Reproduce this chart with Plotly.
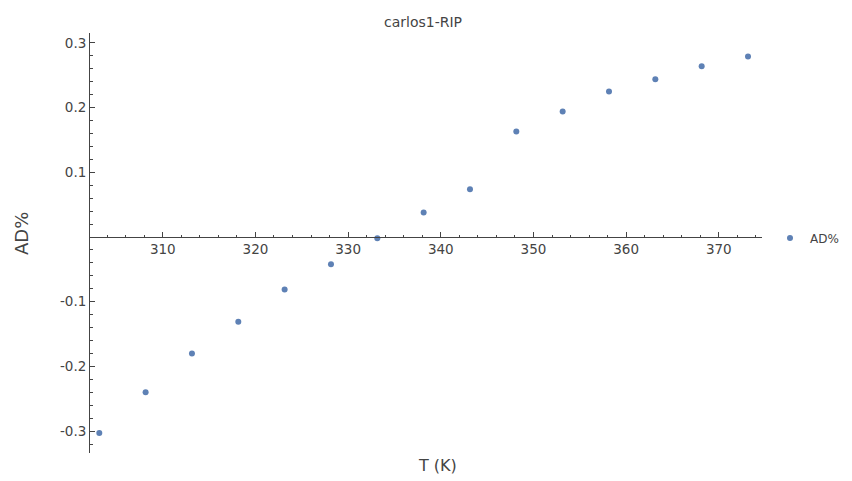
import plotly.graph_objects as go

# Data
T_K = [303.15, 308.15, 313.15, 318.15, 323.15, 328.15, 333.15, 338.15,
       343.15, 348.15, 353.15, 358.15, 363.15, 368.15, 373.15]
AD_pct = [-0.303, -0.240, -0.180, -0.131, -0.081, -0.042, -0.002, 0.038,
          0.074, 0.163, 0.194, 0.225, 0.244, 0.264, 0.279]

x_ticks = [310, 320, 330, 340, 350, 360, 370]
y_ticks = [-0.3, -0.2, -0.1, 0.1, 0.2, 0.3]
y_ticktext = ["-0.3", "-0.2", "-0.1", "0.1", "0.2", "0.3"]

W, H = 852, 481
ML, MR, MT, MB = 89, 90, 33, 28
x_range = [302.04, 374.66]
y_range = [-0.3338, 0.3153]
x_axis_pos = (0 - y_range[0]) / (y_range[1] - y_range[0])
PW = W - ML - MR
PH = H - MT - MB

blue = "#5E81B5"
axis_col = "#444444"
text_col = "#444444"
font_fam = "DejaVu Sans, Liberation Sans, Arial, sans-serif"

fig = go.Figure()
fig.add_trace(go.Scatter(
    x=T_K, y=AD_pct, mode="markers", name="AD%",
    marker=dict(color=blue, size=6),
))

fig.update_layout(
    width=W, height=H,
    margin=dict(l=ML, r=MR, t=MT, b=MB, autoexpand=False),
    plot_bgcolor="white", paper_bgcolor="white",
    font=dict(family=font_fam, color=text_col, size=13),
    title=dict(text="carlos1-RIP", x=423 / W, xref="container",
               y=1 - 22 / H, yref="container", xanchor="center", yanchor="middle",
               font=dict(size=14, color=text_col)),
    showlegend=True,
    legend=dict(x=(770 - ML) / PW, y=(H - MB - 238) / PH,
                xanchor="left", yanchor="middle", bgcolor="rgba(0,0,0,0)",
                font=dict(size=12, color=text_col)),
    xaxis=dict(
        range=x_range, anchor="free", position=x_axis_pos, automargin=False,
        showline=True, linecolor=axis_col, linewidth=1,
        showgrid=False, zeroline=False,
        tickmode="array", tickvals=x_ticks,
        ticks="inside", ticklen=5, tickcolor=axis_col, tickwidth=1,
        tickfont=dict(size=13.5, color=text_col),
        minor=dict(dtick=2, tick0=300, ticks="inside", ticklen=2.5,
                   tickcolor=axis_col, showgrid=False),
    ),
    yaxis=dict(
        range=y_range, anchor="free", position=0, automargin=False,
        showline=True, linecolor=axis_col, linewidth=1,
        showgrid=False, zeroline=False,
        tickmode="array", tickvals=y_ticks, ticktext=y_ticktext,
        ticks="inside", ticklen=5, tickcolor=axis_col, tickwidth=1,
        tickfont=dict(size=13.5, color=text_col),
        minor=dict(dtick=0.02, tick0=0, ticks="inside", ticklen=2.5,
                   tickcolor=axis_col, showgrid=False),
    ),
    annotations=[
        dict(text="T (K)", xref="paper", yref="paper",
             x=(437 - ML) / PW, y=-(466 - (H - MB)) / PH,
             xanchor="center", yanchor="middle", showarrow=False,
             font=dict(size=16, color=text_col)),
        dict(text="AD%", xref="paper", yref="paper",
             x=(22 - ML) / PW, y=(H - MB - 234) / PH,
             xanchor="center", yanchor="middle", showarrow=False, textangle=-90,
             font=dict(size=18, color=text_col)),
    ],
)

fig.write_html("out.html")
